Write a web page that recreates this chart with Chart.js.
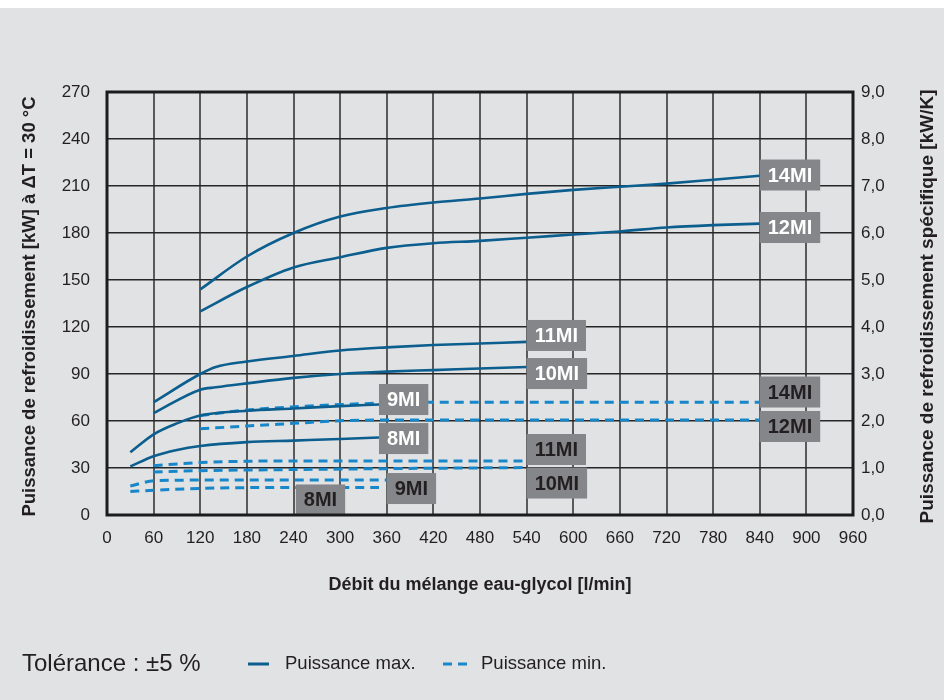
<!DOCTYPE html>
<html>
<head>
<meta charset="utf-8">
<script src="https://cdn.jsdelivr.net/npm/chart.js@4/dist/chart.umd.min.js"></script>
<style>
  html, body { margin: 0; padding: 0; background: #ffffff; }
  canvas { display: block; }
</style>
</head>
<body>
<canvas id="chart" width="944" height="700"></canvas>
<script>
// Flow of the water-glycol mix [l/min] and cooling capacity [kW] per model
const flowMax14 = [120, 180, 240, 300, 360, 420, 480, 540, 600, 660, 720, 780, 840];
const capMax14  = [144, 165, 180, 190.5, 196, 199.5, 202, 205, 207.5, 209.5, 211.5, 214, 216.5];
const flowMax12 = [120, 180, 240, 300, 360, 420, 480, 540, 600, 660, 720, 780, 840];
const capMax12  = [130, 145.5, 158, 164.5, 170.5, 173.5, 175, 177, 179, 181, 183.5, 185, 186];
const flowMax11 = [60, 120, 140, 180, 240, 300, 360, 420, 480, 540];
const capMax11  = [72, 90, 94.5, 98, 101.5, 105, 107, 108.5, 109.5, 110.5];
const flowMax10 = [60, 120, 140, 180, 240, 300, 360, 420, 480, 540];
const capMax10  = [65, 80, 81.5, 84, 87.5, 90, 91.5, 92.5, 93.5, 94.5];
const flowMax9  = [30, 60, 90, 120, 180, 240, 300, 350];
const capMax9   = [40, 51.5, 58.5, 63.5, 66.5, 68, 69.5, 70.5];
const flowMax8  = [30, 60, 90, 120, 180, 240, 300, 350];
const capMax8   = [31, 37.5, 41.5, 44, 46.5, 47.5, 48.5, 49.5];

const flowMin14 = [120, 180, 240, 300, 360, 420, 540, 660, 840];
const capMin14  = [63.5, 67, 69, 70.5, 71.5, 72, 72, 72, 72];
const flowMin12 = [120, 180, 240, 300, 360, 420, 540, 660, 840];
const capMin12  = [55, 56.8, 58.5, 60.2, 60.6, 60.6, 60.6, 60.6, 60.6];
const flowMin11 = [60, 120, 180, 240, 360, 540];
const capMin11  = [31.5, 33.5, 34.3, 34.5, 34.5, 34.5];
const flowMin10 = [60, 120, 240, 360, 540];
const capMin10  = [27.5, 28.3, 29, 29.6, 30.3];
const flowMin9  = [30, 60, 120, 240, 360];
const capMin9   = [18.5, 21.8, 22.3, 22.4, 22.4];
const flowMin8  = [30, 60, 120, 240, 350];
const capMin8   = [15, 15.8, 17, 17.6, 17.6];

// Axis ranges / tick steps
const flowTicks = { min: 0, max: 960, step: 60 };
const capTicks  = { min: 0, max: 270, step: 30 };
const specTicks = { min: 0, max: 9, step: 1 };

// Model tags
const models = ['14MI', '12MI', '11MI', '10MI', '9MI', '8MI'];

// Tag anchors (data units: left edge x, vertical centre y)
const tagMaxX = [840, 840, 540, 540, 350, 350];
const tagMaxY = [217, 183.5, 114.6, 90.3, 73.7, 48.8];
const tagMinX = [840, 840, 540, 540, 360, 243];
const tagMinY = [78.5, 56.5, 41.8, 20.4, 16.9, 9.6];

const FONT = '"Liberation Sans", Arial, Helvetica, sans-serif';
const TEXT = '#231f20';
const SOLID = '#0b5e8e';
const DASHED = '#1787c9';
const BG = '#e1e2e4';

const pts = (xs, ys) => xs.map((x, i) => ({ x, y: ys[i] }));

const maxSeries = [
  pts(flowMax14, capMax14), pts(flowMax12, capMax12), pts(flowMax11, capMax11),
  pts(flowMax10, capMax10), pts(flowMax9, capMax9), pts(flowMax8, capMax8)
];
const minSeries = [
  pts(flowMin14, capMin14), pts(flowMin12, capMin12), pts(flowMin11, capMin11),
  pts(flowMin10, capMin10), pts(flowMin9, capMin9), pts(flowMin8, capMin8)
];

const datasets = [];
maxSeries.forEach((d, i) => datasets.push({
  label: models[i] + ' max', data: d, borderColor: SOLID, borderWidth: 2.6,
  pointRadius: 0, fill: false, cubicInterpolationMode: 'monotone', order: 0
}));
minSeries.forEach((d, i) => datasets.push({
  label: models[i] + ' min', data: d, borderColor: DASHED, borderWidth: 3,
  borderDash: [9, 6], pointRadius: 0, fill: false, cubicInterpolationMode: 'monotone', order: 1
}));

// Background fill
const backdrop = {
  id: 'backdrop',
  beforeDraw(chart) {
    const ctx = chart.ctx;
    ctx.save();
    ctx.fillStyle = '#ffffff';
    ctx.fillRect(0, 0, chart.width, chart.height);
    ctx.fillStyle = BG;
    ctx.fillRect(0, 8, chart.width, chart.height - 8);
    ctx.restore();
  }
};

// Grey model tags at the curve ends
function drawTag(ctx, text, px, py, light) {
  ctx.font = 'bold 20px ' + FONT;
  const w = ctx.measureText(text).width + 16;
  const h = 31;
  ctx.fillStyle = '#858689';
  ctx.fillRect(px, py - h / 2, w, h);
  ctx.fillStyle = light ? '#ffffff' : TEXT;
  ctx.textAlign = 'center';
  ctx.textBaseline = 'middle';
  ctx.fillText(text, px + w / 2, py + 1);
}

const tags = {
  id: 'tags',
  afterDatasetsDraw(chart) {
    const ctx = chart.ctx;
    const xs = chart.scales.x, ys = chart.scales.y;
    ctx.save();
    models.forEach((m, i) => {
      drawTag(ctx, m, xs.getPixelForValue(tagMaxX[i]), ys.getPixelForValue(tagMaxY[i]), true);
      drawTag(ctx, m, xs.getPixelForValue(tagMinX[i]), ys.getPixelForValue(tagMinY[i]), false);
    });
    // plot frame
    const a = chart.chartArea;
    ctx.strokeStyle = '#1c1c1c';
    ctx.lineWidth = 3;
    ctx.strokeRect(a.left, a.top, a.right - a.left, a.bottom - a.top);
    ctx.restore();
  }
};

// Axis titles and the bottom legend row
const annotations = {
  id: 'annotations',
  afterDraw(chart) {
    const ctx = chart.ctx;
    const a = chart.chartArea;
    const midY = (a.top + a.bottom) / 2 + 3;
    ctx.save();
    ctx.fillStyle = TEXT;
    ctx.textAlign = 'center';
    ctx.textBaseline = 'middle';

    ctx.font = 'bold 18.5px ' + FONT;
    ctx.save();
    ctx.translate(30, midY);
    ctx.rotate(-Math.PI / 2);
    ctx.fillText('Puissance de refroidissement [kW] à ΔT = 30 °C', 0, 0);
    ctx.restore();

    ctx.font = 'bold 19px ' + FONT;
    ctx.save();
    ctx.translate(928, midY);
    ctx.rotate(-Math.PI / 2);
    ctx.fillText('Puissance de refroidissement spécifique [kW/K]', 0, 0);
    ctx.restore();

    ctx.font = 'bold 18px ' + FONT;
    ctx.fillText('Débit du mélange eau-glycol [l/min]', (a.left + a.right) / 2, 585);

    // legend
    const ly = 664;
    ctx.textAlign = 'left';
    ctx.font = '24px ' + FONT;
    ctx.fillText('Tolérance : ±5 %', 22, ly);

    ctx.lineWidth = 3;
    ctx.strokeStyle = SOLID;
    ctx.beginPath(); ctx.moveTo(248, ly); ctx.lineTo(269, ly); ctx.stroke();
    ctx.font = '18.5px ' + FONT;
    ctx.fillText('Puissance max.', 285, ly);

    ctx.strokeStyle = DASHED;
    ctx.setLineDash([9, 6]);
    ctx.beginPath(); ctx.moveTo(443, ly); ctx.lineTo(467, ly); ctx.stroke();
    ctx.setLineDash([]);
    ctx.fillText('Puissance min.', 481, ly);
    ctx.restore();
  }
};

new Chart(document.getElementById('chart'), {
  type: 'line',
  data: { datasets },
  options: {
    responsive: false,
    animation: false,
    devicePixelRatio: 1,
    layout: { padding: { top: 92, left: 57, right: 41, bottom: 155 } },
    plugins: { legend: { display: false }, tooltip: { enabled: false } },
    scales: {
      x: {
        type: 'linear', min: flowTicks.min, max: flowTicks.max,
        afterFit: s => { s.height = 30; },
        ticks: {
          stepSize: flowTicks.step, autoSkip: false, maxRotation: 0, padding: 13,
          color: TEXT, font: { family: FONT, size: 17 }
        },
        grid: { color: '#5a5a5a', lineWidth: 2, drawTicks: false },
        border: { display: false }
      },
      y: {
        position: 'left', min: capTicks.min, max: capTicks.max,
        afterFit: s => { s.width = 50; },
        ticks: { stepSize: capTicks.step, padding: 17, color: TEXT, font: { family: FONT, size: 17 } },
        grid: { color: '#262626', lineWidth: 1.6, drawTicks: false },
        border: { display: false }
      },
      y2: {
        position: 'right', min: specTicks.min, max: specTicks.max,
        afterFit: s => { s.width = 50; },
        ticks: {
          stepSize: specTicks.step, padding: 8, color: TEXT, font: { family: FONT, size: 17 },
          callback: v => v.toFixed(1).replace('.', ',')
        },
        grid: { display: false, drawTicks: false },
        border: { display: false }
      }
    }
  },
  plugins: [backdrop, tags, annotations]
});
</script>
</body>
</html>
